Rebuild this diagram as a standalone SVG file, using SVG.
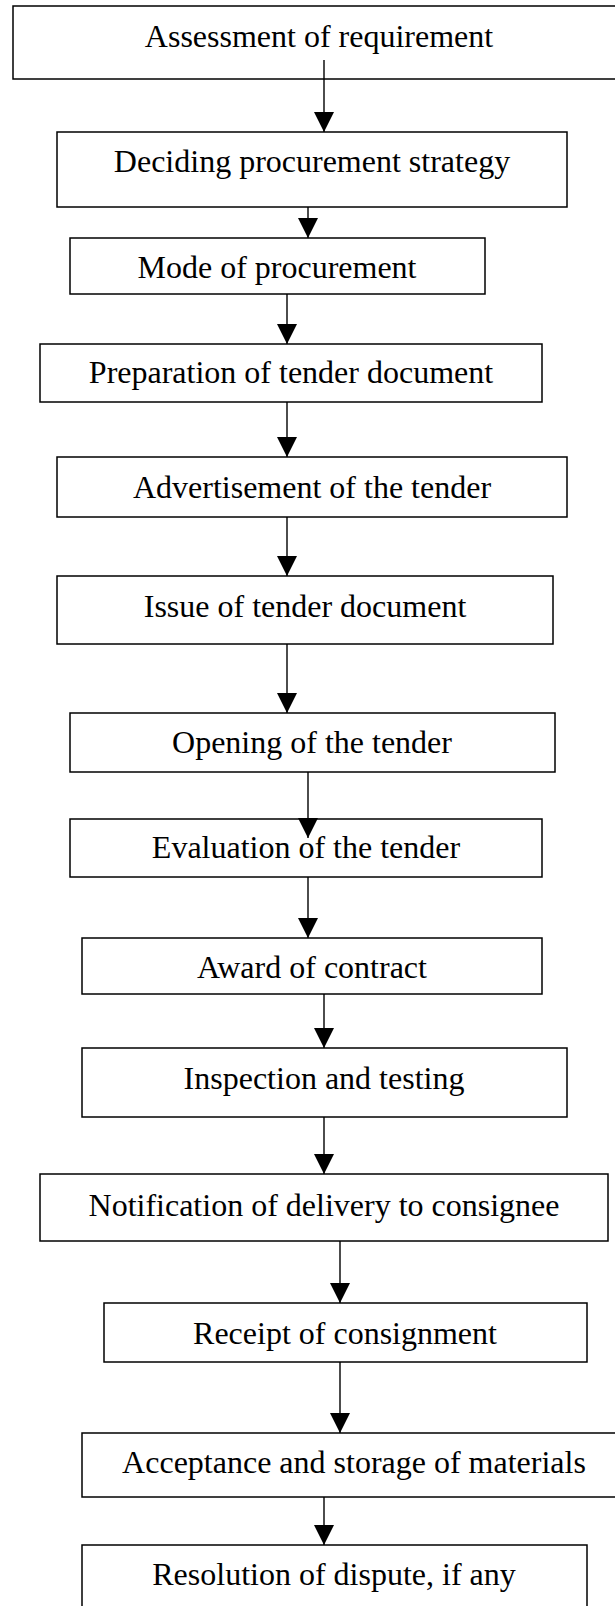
<svg xmlns="http://www.w3.org/2000/svg" width="615" height="1606" viewBox="0 0 615 1606">
<style>
.box{fill:#fff;stroke:#000;stroke-width:1.5}
.lbl{font-family:"Liberation Serif","Times New Roman",serif;font-size:32px;fill:#000;text-anchor:middle}
.conn{stroke:#000;stroke-width:1.4;fill:none;marker-end:url(#ah)}
</style>
<defs>
<marker id="ah" markerUnits="userSpaceOnUse" markerWidth="20" markerHeight="20" viewBox="0 0 20 20" refX="20" refY="10" orient="auto">
<path d="M0,0 L20,10 L0,20 z" fill="#000"/>
</marker>
</defs>
<rect width="615" height="1606" fill="#fff"/>
<g id="n1"><rect class="box" x="13" y="6" width="630" height="73"/><text class="lbl" x="319" y="47">Assessment of requirement</text></g>
<g id="n2"><rect class="box" x="57" y="132" width="510" height="75"/><text class="lbl" x="312" y="172">Deciding procurement strategy</text></g>
<g id="n3"><rect class="box" x="70" y="238" width="415" height="56"/><text class="lbl" x="277" y="278">Mode of procurement</text></g>
<g id="n4"><rect class="box" x="40" y="344" width="502" height="58"/><text class="lbl" x="291" y="383">Preparation of tender document</text></g>
<g id="n5"><rect class="box" x="57" y="457" width="510" height="60"/><text class="lbl" x="312" y="498">Advertisement of the tender</text></g>
<g id="n6"><rect class="box" x="57" y="576" width="496" height="68"/><text class="lbl" x="305" y="617">Issue of tender document</text></g>
<g id="n7"><rect class="box" x="70" y="713" width="485" height="59"/><text class="lbl" x="312" y="753">Opening of the tender</text></g>
<g id="n8"><rect class="box" x="70" y="819" width="472" height="58"/><text class="lbl" x="306" y="858">Evaluation of the tender</text></g>
<g id="n9"><rect class="box" x="82" y="938" width="460" height="56"/><text class="lbl" x="312" y="978">Award of contract</text></g>
<g id="n10"><rect class="box" x="82" y="1048" width="485" height="69"/><text class="lbl" x="324" y="1089">Inspection and testing</text></g>
<g id="n11"><rect class="box" x="40" y="1174" width="568" height="67"/><text class="lbl" x="324" y="1216">Notification of delivery to consignee</text></g>
<g id="n12"><rect class="box" x="104" y="1303" width="483" height="59"/><text class="lbl" x="345" y="1344">Receipt of consignment</text></g>
<g id="n13"><rect class="box" x="82" y="1433" width="560" height="64"/><text class="lbl" x="354" y="1473">Acceptance and storage of materials</text></g>
<g id="n14"><rect class="box" x="82" y="1545" width="505" height="80"/><text class="lbl" x="334" y="1585">Resolution of dispute, if any</text></g>
<g id="connectors">
<line class="conn" x1="324" y1="60" x2="324" y2="132"/>
<line class="conn" x1="308" y1="207" x2="308" y2="238"/>
<line class="conn" x1="287" y1="294" x2="287" y2="344"/>
<line class="conn" x1="287" y1="402" x2="287" y2="457"/>
<line class="conn" x1="287" y1="517" x2="287" y2="576"/>
<line class="conn" x1="287" y1="644" x2="287" y2="713"/>
<line class="conn" x1="308" y1="772" x2="308" y2="838"/>
<line class="conn" x1="308" y1="877" x2="308" y2="938"/>
<line class="conn" x1="324" y1="994" x2="324" y2="1048"/>
<line class="conn" x1="324" y1="1117" x2="324" y2="1174"/>
<line class="conn" x1="340" y1="1241" x2="340" y2="1303"/>
<line class="conn" x1="340" y1="1362" x2="340" y2="1433"/>
<line class="conn" x1="324" y1="1497" x2="324" y2="1545"/>
</g>
</svg>
